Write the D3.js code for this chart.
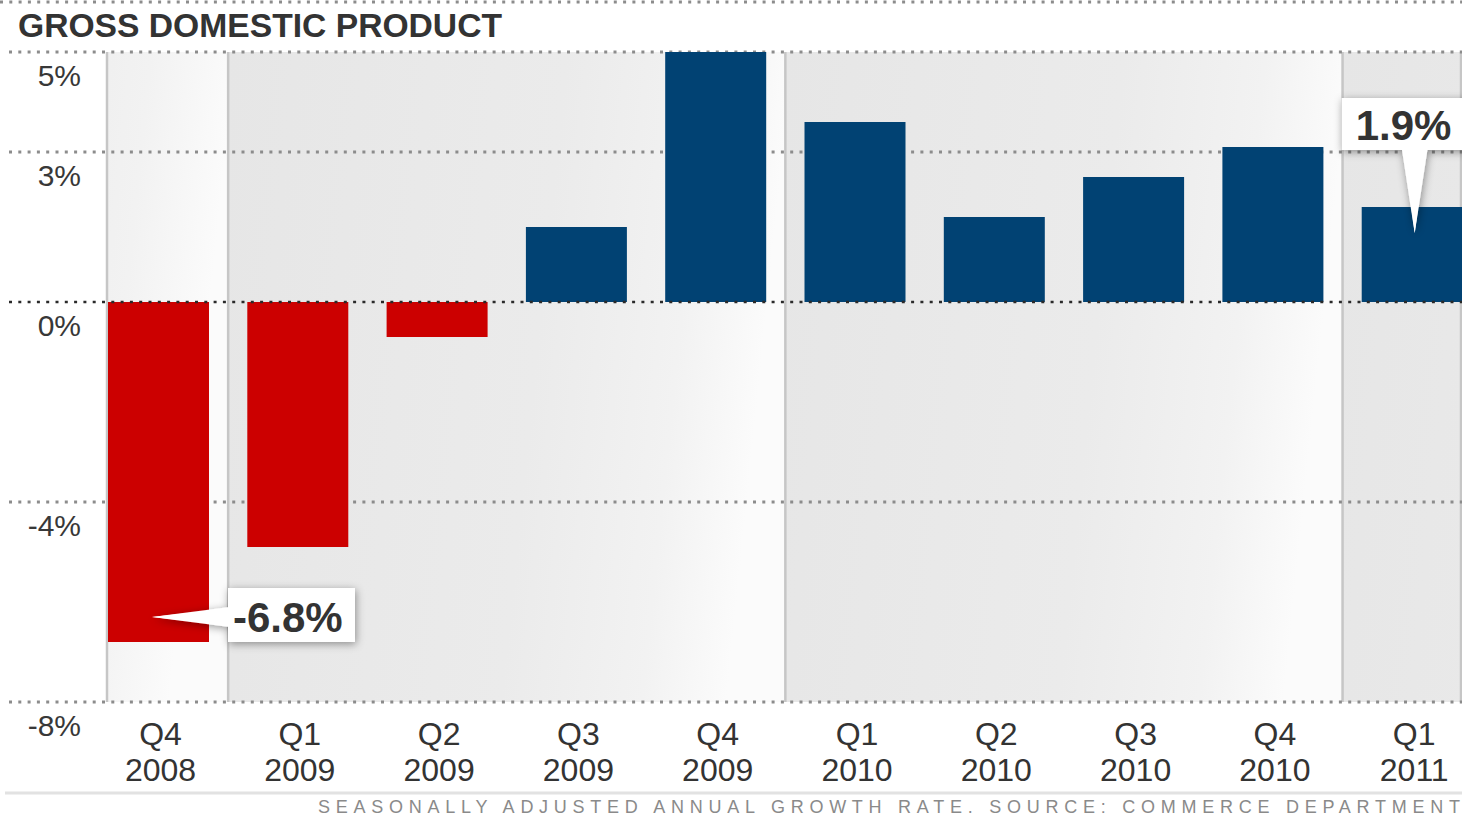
<!DOCTYPE html>
<html>
<head>
<meta charset="utf-8">
<script src="https://cdn.jsdelivr.net/npm/d3@7"></script>
<style>
  body { margin: 0; background: #fff; }
  svg { display: block; font-family: "Liberation Sans", Arial, sans-serif; }
</style>
</head>
<body>
<svg id="chart" width="1462" height="818"></svg>
<script>
// quarters on the x axis, two-line labels
const quarters = ["Q4 2008", "Q1 2009", "Q2 2009", "Q3 2009", "Q4 2009",
                  "Q1 2010", "Q2 2010", "Q3 2010", "Q4 2010", "Q1 2011"];
// GDP growth, seasonally adjusted annual rate (%)
const growth = [-6.8, -4.9, -0.7, 1.5, 5.0, 3.6, 1.7, 2.5, 3.1, 1.9];
// y ticks as printed on the chart
const yTicks = [5, 3, 0, -4, -8];
// year bands shading the background (first quarter in each)
const years = [
  { year: 2008, first: "Q1 2008" },
  { year: 2009, first: "Q1 2009" },
  { year: 2010, first: "Q1 2010" },
  { year: 2011, first: "Q1 2011" }
];
// the two highlighted values
const callouts = [
  { q: "Q4 2008", v: -6.8, text: "-6.8%" },
  { q: "Q1 2011", v: 1.9, text: "1.9%" }
];

const svg = d3.select("#chart");
const W = 1462;
const plotLeft = 107, plotRight = 1462;

let x = d3.scaleBand()
    .domain(quarters)
    .range([108, 1462.7])
    .paddingInner(0.275)
    .paddingOuter(0);
let y = d3.scaleLinear()
    .domain([-8, 5])
    .range([702, 52]);

let step = x.step(), gap = step - x.bandwidth();

// defs: background gradient, callout shadow, clip
let defs = svg.append("defs");
let grad = defs.append("linearGradient")
    .attr("id", "bandGrad")
    .attr("x1", 0).attr("y1", 0).attr("x2", 1).attr("y2", 0.12);
grad.append("stop").attr("offset", 0).attr("stop-color", "#e6e6e6");
grad.append("stop").attr("offset", 0.6).attr("stop-color", "#ebebeb");
grad.append("stop").attr("offset", 0.85).attr("stop-color", "#f2f2f2");
grad.append("stop").attr("offset", 1).attr("stop-color", "#fbfbfb");

let shadow = defs.append("filter")
    .attr("id", "shadow")
    .attr("x", -0.3).attr("y", -0.5).attr("width", 1.6).attr("height", 2);
shadow.append("feDropShadow")
    .attr("dx", 1).attr("dy", 2)
    .attr("stdDeviation", 4)
    .attr("flood-color", "#000")
    .attr("flood-opacity", 0.4);

defs.append("clipPath").attr("id", "plotClip")
  .append("rect")
    .attr("x", plotLeft).attr("y", y(5))
    .attr("width", plotRight - plotLeft).attr("height", y(-8) - y(5));

// index of a quarter relative to the first one on the axis
function qIndex(label) {
    let [q, yr] = label.split(" ");
    let first = quarters[0].split(" ");
    return (+yr - +first[1]) * 4 + (+q[1] - +first[0][1]);
}
function qPos(label) {
    return x.range()[0] + qIndex(label) * step;
}

// year bands
let bands = svg.append("g").attr("clip-path", "url(#plotClip)");
bands.selectAll("rect")
    .data(years)
  .enter().append("rect")
    .attr("x", d => qPos(d.first) - gap / 2)
    .attr("y", y(5))
    .attr("width", step * 4)
    .attr("height", y(-8) - y(5))
    .attr("fill", "url(#bandGrad)");

// band separators
let seps = years.map(d => Math.max(plotLeft, qPos(d.first) - gap / 2));
seps.push(plotRight - 1);
svg.append("g").selectAll("line")
    .data(seps)
  .enter().append("line")
    .attr("x1", d => d).attr("x2", d => d)
    .attr("y1", y(5)).attr("y2", y(-8))
    .attr("stroke", "#c6c6c6")
    .attr("stroke-width", 2.5);

// top rule above the title
svg.append("line")
    .attr("x1", 0).attr("x2", W)
    .attr("y1", 2).attr("y2", 2)
    .attr("stroke", "#8c8c8c")
    .attr("stroke-width", 3)
    .attr("stroke-dasharray", "3,6.3");

// gridlines
svg.append("g").selectAll("line")
    .data(yTicks.filter(t => t !== 0))
  .enter().append("line")
    .attr("x1", 9).attr("x2", W)
    .attr("y1", d => y(d)).attr("y2", d => y(d))
    .attr("stroke", "#8c8c8c")
    .attr("stroke-width", 3)
    .attr("stroke-dasharray", "3,6.3");

// bars
svg.append("g").selectAll("rect")
    .data(quarters)
  .enter().append("rect")
    .attr("x", d => x(d))
    .attr("width", x.bandwidth())
    .attr("y", (d, i) => y(Math.max(0, growth[i])))
    .attr("height", (d, i) => Math.abs(y(growth[i]) - y(0)))
    .attr("fill", (d, i) => growth[i] < 0 ? "#cc0000" : "#014273");

// zero line on top
svg.append("line")
    .attr("x1", 9).attr("x2", W)
    .attr("y1", y(0)).attr("y2", y(0))
    .attr("stroke", "#2a2a2a")
    .attr("stroke-width", 2.5)
    .attr("stroke-dasharray", "3,6.3");

// y labels
svg.append("g").selectAll("text")
    .data(yTicks)
  .enter().append("text")
    .attr("x", 81)
    .attr("y", d => y(d) + 34)
    .attr("text-anchor", "end")
    .attr("font-size", 30)
    .attr("fill", "#383838")
    .text(d => d + "%");

// x labels
let xl = svg.append("g").selectAll("text")
    .data(quarters)
  .enter().append("text")
    .attr("text-anchor", "middle")
    .attr("font-size", 32)
    .attr("fill", "#333");
xl.append("tspan")
    .attr("x", d => x(d) + x.bandwidth() / 2 + 2)
    .attr("y", 745)
    .text(d => d.split(" ")[0]);
xl.append("tspan")
    .attr("x", d => x(d) + x.bandwidth() / 2 + 2)
    .attr("y", 781)
    .text(d => d.split(" ")[1]);

// title
svg.append("text")
    .attr("x", 18).attr("y", 37)
    .attr("font-size", 33)
    .attr("font-weight", "bold")
    .attr("fill", "#333")
    .attr("textLength", 484)
    .attr("lengthAdjust", "spacingAndGlyphs")
    .text("GROSS DOMESTIC PRODUCT");

// bottom rule and source note
svg.append("line")
    .attr("x1", 5).attr("x2", W)
    .attr("y1", 793).attr("y2", 793)
    .attr("stroke", "#e2e2e2")
    .attr("stroke-width", 3);
svg.append("text")
    .attr("x", 318).attr("y", 813)
    .attr("font-size", 18)
    .attr("fill", "#8a8a8a")
    .attr("textLength", 1142)
    .attr("lengthAdjust", "spacing")
    .text("SEASONALLY ADJUSTED ANNUAL GROWTH RATE. SOURCE: COMMERCE DEPARTMENT");

// callouts
// -6.8%: box to the right of the bar, pointer going left into the bar
let c0 = callouts[0];
let c0y = y(c0.v) - 25;
let g0 = svg.append("g").attr("filter", "url(#shadow)");
g0.append("path")
    .attr("d", `M${x(c0.q) + 44},${c0y} L${x(c0.q) + 122},${c0y - 10} L${x(c0.q) + 122},${c0y + 10} Z`)
    .attr("fill", "#fff");
g0.append("rect")
    .attr("x", x(c0.q) + 120).attr("y", c0y - 29)
    .attr("width", 127).attr("height", 54)
    .attr("fill", "#fff");
svg.append("path")
    .attr("d", `M${x(c0.q) + 44},${c0y} L${x(c0.q) + 124},${c0y - 9} L${x(c0.q) + 124},${c0y + 9} Z`)
    .attr("fill", "#fff");
svg.append("text")
    .attr("x", x(c0.q) + 125).attr("y", c0y + 15)
    .attr("font-size", 42)
    .attr("font-weight", "bold")
    .attr("fill", "#333")
    .text(c0.text);

// 1.9%: box above the bar, pointer going down into the bar
let c1 = callouts[1];
let c1x = x(c1.q) + 53;
let c1tip = y(c1.v) + 26;
let g1 = svg.append("g").attr("filter", "url(#shadow)");
g1.append("rect")
    .attr("x", x(c1.q) - 20).attr("y", 98)
    .attr("width", 140).attr("height", 52)
    .attr("fill", "#fff");
g1.append("path")
    .attr("d", `M${c1x - 13},148 L${c1x},${c1tip} L${c1x + 13},148 Z`)
    .attr("fill", "#fff");
svg.append("path")
    .attr("d", `M${c1x - 12},146 L${c1x},${c1tip} L${c1x + 12},146 Z`)
    .attr("fill", "#fff");
svg.append("text")
    .attr("x", x(c1.q) - 6).attr("y", 140)
    .attr("font-size", 42)
    .attr("font-weight", "bold")
    .attr("fill", "#333")
    .text(c1.text);
</script>
</body>
</html>
